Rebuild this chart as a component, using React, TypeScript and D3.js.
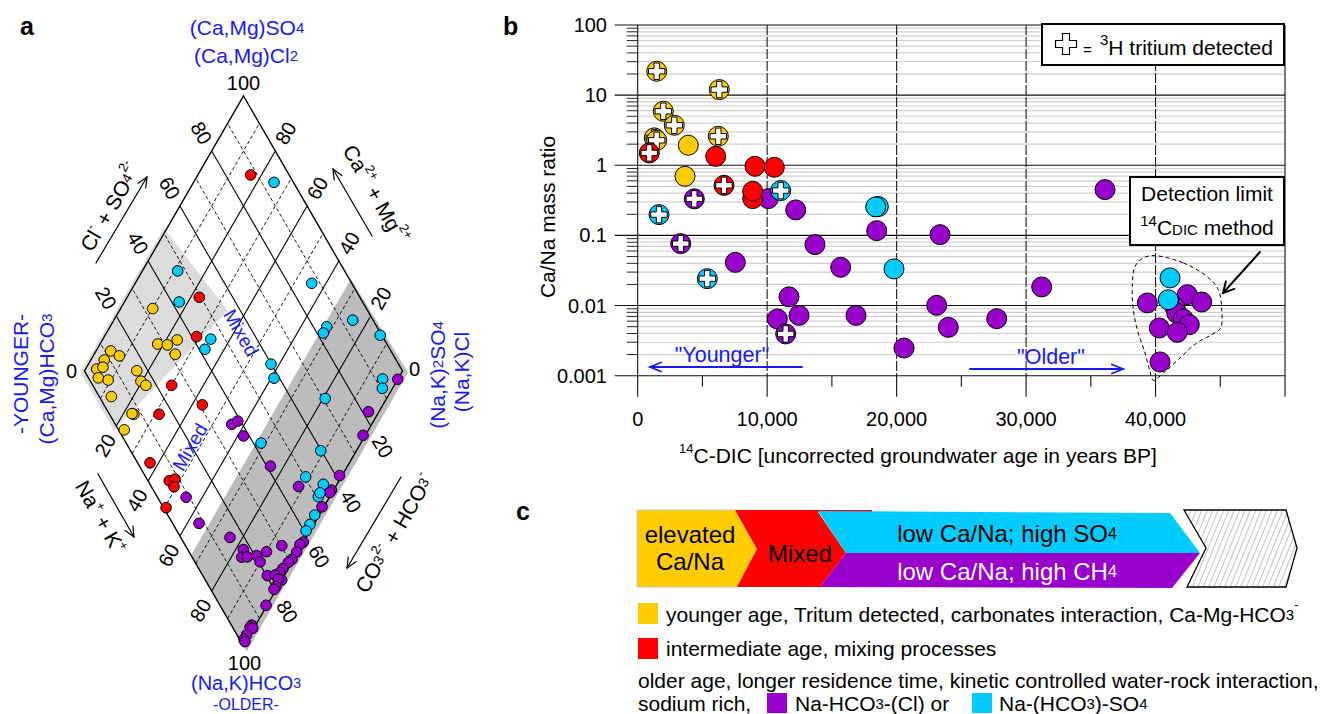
import React from "react";
import * as d3 from "d3";

const FONT = "'Liberation Sans', Arial, Helvetica, sans-serif";
const BLUE = "#1a1af0";
const YELLOW = "#FFCC00";
const RED = "#FF0000";
const CYAN = "#00CCFF";
const PURPLE = "#9900CC";

// ---------------- Panel a: Piper diamond, [Ca+Mg %, Cl+SO4 %]
const piperYellow: [number, number][] = [
  [89.9, 32.8], [81.9, 27.9], [78.7, 30.8], [76.5, 34.8], [74.5, 31.6],
  [95.4, 11.9], [91.8, 13.7], [95.8, 8.2], [96.5, 4.2], [94.4, 3.1],
  [90.9, 5.8], [86.9, 3.8], [83.6, 16.5], [80.4, 15.9], [78.1, 16.7],
  [76.6, 7.7], [76.8, 1.8], [94.9, 6.5], [77.3, 7.2],
];
const piperRed: [number, number][] = [
  [83.4, 87.9], [77.3, 49.5], [71.0, 41.5], [70.0, 24.8], [56.8, 30.9],
  [68.7, 15.6], [62.7, 3.9], [53.4, 6.7], [51.9, 8.8], [50.8, 7.1], [49.5, 0.8],
];
const piperCyan: [number, number][] = [
  [74.7, 93.9], [88.9, 47.5], [82.8, 42.3], [66.1, 45.5], [66.1, 41.8],
  [44.5, 87.4], [24.9, 93.6], [31.9, 84.2], [31.8, 82.0], [13.5, 99.5],
  [42.6, 59.9], [39.1, 58.3], [4.8, 92.3], [3.2, 90.5], [19.3, 70.7],
  [31.4, 42.4], [11.2, 59.8], [11.2, 50.3], [4.3, 54.5], [3.6, 50.7],
  [3.8, 51.9], [1.4, 46.2], [1.2, 43.0], [1.25, 40.6],
];
const piperPurple: [number, number][] = [
  [0, 97], [3.3, 81.9], [0.7, 75.9], [44.0, 36.6], [42.7, 39.1], [38.2, 38.2],
  [24.2, 41.2], [11.7, 46.3], [0.8, 61.2], [0.7, 56.0], [0.8, 55.0], [0.6, 50.0],
  [45.1, 9.0], [36.3, 8.3], [24.0, 15.5], [6.2, 30.3], [17.6, 17.5], [16.7, 15.6],
  [15.0, 17.4], [12.3, 20.6], [9.9, 24.4], [10.1, 20.5], [0.1, 37.7], [0.7, 36.2],
  [0.35, 33.8], [0.5, 31.0], [1.1, 29.3], [1.7, 26.5], [1.9, 24.8], [5.3, 20.3],
  [3.0, 22.8], [0, 24.0], [1.2, 23.1], [0.6, 21.0], [0.7, 19.9], [0.3, 14.5],
  [1.2, 6.4], [1.35, 5.5], [0.3, 6.1], [1.05, 3.0], [1.05, 1.35], [0.35, 1.25],
];
const piperGrid = [10, 20, 30, 40, 50, 60, 70, 80, 90];
const piperTicks = [20, 40, 60, 80];
const lightField: [number, number][] = [[101, -1.5], [101, 51], [66, 56], [80, -1.5]];
const darkField: [number, number][] = [[33, 0], [33, 100.5], [-2, 101.5], [-2, 0]];

// ---------------- Panel b: [14C age yr BP, Ca/Na mass ratio]
const bYellowT: [number, number][] = [
  [1468, 21.9], [6303, 12.0], [1978, 5.89], [2827, 3.72], [6226, 2.59], [1282, 2.46], [1468, 2.27],
];
const bYellow: [number, number][] = [[3909, 1.93], [3654, 0.697]];
const bRedT: [number, number][] = [[896, 1.5], [6666, 0.518]];
const bRed: [number, number][] = [
  [6025, 1.34], [9061, 0.968], [10552, 0.936], [8883, 0.335], [8883, 0.426],
];
const bCyanT: [number, number][] = [[11046, 0.436], [1645, 0.198], [5376, 0.0242]];
const bCyan: [number, number][] = [
  [18590, 0.258], [18384, 0.255], [19798, 0.0333], [41117, 0.0248], [40986, 0.0121],
];
const bPurpleT: [number, number][] = [[4372, 0.332], [3321, 0.0764], [11432, 0.00394]];
const bPurple: [number, number][] = [
  [10088, 0.335], [12204, 0.231], [13695, 0.0739], [7539, 0.0413], [15680, 0.0351],
  [18461, 0.117], [11687, 0.0133], [12459, 0.00725], [10783, 0.00644], [16862, 0.00725],
  [20570, 0.00248], [23351, 0.1026], [23096, 0.01007], [23992, 0.00489], [27731, 0.0065],
  [31207, 0.0184], [36097, 0.45], [39363, 0.0109], [42453, 0.0143], [43566, 0.01125],
  [41500, 0.0095], [41634, 0.00784], [42144, 0.00644], [42607, 0.00534], [40290, 0.00479],
  [41681, 0.00415], [40344, 0.00157],
];
const xTicks = [0, 10000, 20000, 30000, 40000, 50000];
const xTickLabels = ["0", "10,000", "20,000", "30,000", "40,000", ""];
const xMinor = [5000, 15000, 25000, 35000, 45000];
const yTicks = [0.001, 0.01, 0.1, 1, 10, 100];
const yTickLabels = ["0.001", "0.01", "0.1", "1", "10", "100"];
const detectionCurve: [number, number][] = [
  [39958, 0.0515], [42144, 0.0405], [43952, 0.0261], [44848, 0.0169], [45111, 0.00874],
  [45033, 0.00479], [44338, 0.00385], [43179, 0.00293], [41889, 0.00179], [40600, 0.00109],
  [39827, 0.000857], [39571, 0.00115], [39185, 0.00211], [38591, 0.00453], [38282, 0.00874],
  [38205, 0.0188], [38414, 0.0362], [39055, 0.0478],
];

// ---------------- geometry helpers
const DIA = { cx: 243.5, top: 96, bottom: 646, left: 84.5, right: 402.5, mid: 371 };
const frac = d3.scaleLinear().domain([0, 100]).range([0, 1]);
function dpos(c: number, a: number): [number, number] {
  const u = frac(c), v = frac(a);
  return [
    DIA.cx + u * (DIA.left - DIA.cx) + v * (DIA.right - DIA.cx),
    DIA.bottom + (u + v) * (DIA.mid - DIA.bottom),
  ];
}

const xS = d3.scaleLinear().domain([0, 50000]).range([637.7, 1285]);
const yS = d3.scaleLog().domain([0.001, 100]).range([375.7, 25]);

function Arrow({ x1, y1, x2, y2, color = "#000", width = 1.2, head = 11, angle = 24 }: any) {
  const ang = Math.atan2(y2 - y1, x2 - x1);
  const r = (angle * Math.PI) / 180;
  const p1 = [x2 + head * Math.cos(ang + Math.PI - r), y2 + head * Math.sin(ang + Math.PI - r)];
  const p2 = [x2 + head * Math.cos(ang + Math.PI + r), y2 + head * Math.sin(ang + Math.PI + r)];
  return (
    <g stroke={color} strokeWidth={width} fill="none" strokeLinecap="round">
      <line x1={x1} y1={y1} x2={x2} y2={y2} />
      <polyline points={`${p1[0]},${p1[1]} ${x2},${y2} ${p2[0]},${p2[1]}`} strokeLinejoin="miter" />
    </g>
  );
}

function crossPath(L: number, w: number) {
  return `M${-w},${-L}H${w}V${-w}H${L}V${w}H${w}V${L}H${-w}V${w}H${-L}V${-w}H${-w}Z`;
}

function PiperPanel() {
  const poly = (pts: [number, number][]) => pts.map((p) => dpos(p[0], p[1]).join(",")).join(" ");
  const T = dpos(100, 100), B = dpos(0, 0), L = dpos(100, 0), R = dpos(0, 100);
  const dots = (data: [number, number][], color: string) =>
    data.map((d, i) => {
      const [x, y] = dpos(d[0], d[1]);
      return <circle key={color + i} cx={x} cy={y} r={5.3} fill={color} stroke="#000" strokeWidth={1} />;
    });
  return (
    <g>
      <polygon points={poly(lightField)} fill="#dcdcdc" />
      <polygon points={poly(darkField)} fill="#bcbcbc" />
      {piperGrid.map((k) => {
        const solid = k % 20 === 0;
        const a1 = dpos(k, 0), a2 = dpos(k, 100);
        const b1 = dpos(0, k), b2 = dpos(100, k);
        const st = solid
          ? { stroke: "#000", strokeWidth: 1.1 }
          : { stroke: "#000", strokeWidth: 0.9, strokeDasharray: "3.5,2.5" };
        return (
          <g key={k}>
            <line x1={a1[0]} y1={a1[1]} x2={a2[0]} y2={a2[1]} {...st} />
            <line x1={b1[0]} y1={b1[1]} x2={b2[0]} y2={b2[1]} {...st} />
          </g>
        );
      })}
      <polygon points={[T, R, B, L].map((p) => p.join(",")).join(" ")} fill="none" stroke="#000" strokeWidth={1.4} />
      {dots(piperYellow, YELLOW)}
      {dots(piperRed, RED)}
      {dots(piperPurple, PURPLE)}
      {dots(piperCyan, CYAN)}
      {/* tick labels */}
      <g fontSize={20} fill="#000" textAnchor="middle">
        {piperTicks.map((k) => {
          const ul = dpos(106.5, k), ur = dpos(k, 106.5), ll = dpos(100 - k, -7), lr = dpos(-7.5, 100 - k);
          return (
            <g key={k}>
              <text transform={`translate(${ul[0]},${ul[1]}) rotate(60)`} dominantBaseline="central">{k}</text>
              <text transform={`translate(${ur[0]},${ur[1]}) rotate(-60)`} dominantBaseline="central">{k}</text>
              <text transform={`translate(${ll[0]},${ll[1]}) rotate(-60)`} dominantBaseline="central">{k}</text>
              <text transform={`translate(${lr[0]},${lr[1]}) rotate(60)`} dominantBaseline="central">{k}</text>
            </g>
          );
        })}
        <text x={T[0]} y={T[1] - 13} dominantBaseline="central">100</text>
        <text x={B[0] + 1} y={B[1] + 17} dominantBaseline="central">100</text>
        <text x={L[0] - 13} y={L[1]} dominantBaseline="central">0</text>
        <text x={R[0] + 12} y={R[1] - 2} dominantBaseline="central">0</text>
      </g>
      {/* axis titles */}
      <g fontSize={21} fill="#000" textAnchor="middle">
        <text transform="translate(110,207) rotate(-60)" dominantBaseline="central">
          Cl<tspan fontSize={13} dy={-8}>-</tspan><tspan dy={8}> + SO</tspan><tspan fontSize={14}>4</tspan>
          <tspan fontSize={13} dy={-9}>2-</tspan>
        </text>
        <text transform="translate(376,194) rotate(60)" dominantBaseline="central">
          Ca<tspan fontSize={13} dy={-8}>2+</tspan><tspan dy={8}> + Mg</tspan><tspan fontSize={13} dy={-8}>2+</tspan>
        </text>
        <text transform="translate(101,517) rotate(60)" dominantBaseline="central">
          Na<tspan fontSize={13} dy={-6}>+</tspan><tspan dy={6}> + K</tspan><tspan fontSize={13} dy={-6}>+</tspan>
        </text>
        <text transform="translate(394,533) rotate(-60)" dominantBaseline="central">
          CO<tspan fontSize={14}>3</tspan><tspan fontSize={13} dy={-8}>2-</tspan><tspan dy={8}> + HCO</tspan>
          <tspan fontSize={14}>3</tspan><tspan fontSize={13} dy={-8}>-</tspan>
        </text>
      </g>
      <Arrow x1={96} y1={263} x2={147} y2={177} />
      <Arrow x1={372} y1={236} x2={333} y2={169} />
      <Arrow x1={98} y1={474} x2={134} y2={537} />
      <Arrow x1={401} y1={477} x2={347} y2={568} />
      {/* blue labels */}
      <g fontSize={21} fill={BLUE} textAnchor="middle">
        <text x={247} y={27} dominantBaseline="central">(Ca,Mg)SO<tspan fontSize={15}>4</tspan></text>
        <text x={246} y={55} dominantBaseline="central">(Ca,Mg)Cl<tspan fontSize={15}>2</tspan></text>
        <text transform="translate(20,374) rotate(-90)" dominantBaseline="central">-YOUNGER-</text>
        <text transform="translate(46,379) rotate(-90)" dominantBaseline="central">(Ca,Mg)HCO<tspan fontSize={15}>3</tspan></text>
        <text transform="translate(437,375) rotate(-90)" dominantBaseline="central">(Na,K)<tspan fontSize={15}>2</tspan>SO<tspan fontSize={15}>4</tspan></text>
        <text transform="translate(461,372) rotate(-90)" dominantBaseline="central">(Na,K)Cl</text>
        <text x={246} y={683} dominantBaseline="central" fontSize={20}>(Na,K)HCO<tspan fontSize={14}>3</tspan></text>
        <text x={246} y={704} dominantBaseline="central" fontSize={16}>-OLDER-</text>
        <text transform="translate(241,333) rotate(60)" dominantBaseline="central" fontSize={19}>Mixed</text>
        <text transform="translate(190,447) rotate(-60)" dominantBaseline="central" fontSize={19}>Mixed</text>
      </g>
      <text x={20} y={35} fontSize={25} fontWeight="bold">a</text>
    </g>
  );
}

function AgePanel() {
  const minor = yS.ticks().filter((t) => !yTicks.some((m) => Math.abs(Math.log10(t) - Math.log10(m)) < 1e-6));
  const curve = d3.line<[number, number]>().x((d) => xS(d[0])).y((d) => yS(d[1])).curve(d3.curveCatmullRomClosed.alpha(0.5));
  const dot = (data: [number, number][], color: string, tritium: boolean, key: string) =>
    data.map((d, i) => {
      const cx = xS(d[0]), cy = yS(d[1]);
      return (
        <g key={key + i} transform={`translate(${cx},${cy})`}>
          <circle r={10} fill={color} stroke="#000" strokeWidth={1} />
          {tritium && <path d={crossPath(8.2, 2.7)} fill="#fff" stroke="#000" strokeWidth={1} />}
        </g>
      );
    });
  const x0 = xS(0), x1 = xS(50000), yb = yS(0.001), yt = yS(100);
  return (
    <g>
      {minor.map((t, i) => (
        <g key={"mn" + i}>
          <line x1={x0} x2={x1} y1={yS(t)} y2={yS(t)} stroke="#cfcfcf" strokeWidth={1.2} />
          <line x1={x0 - 11} x2={x0} y1={yS(t)} y2={yS(t)} stroke="#111" strokeWidth={0.9} />
        </g>
      ))}
      {xTicks.slice(1, 5).map((t) => (
        <line key={"vg" + t} x1={xS(t)} x2={xS(t)} y1={yt} y2={yb} stroke="#1a1a1a" strokeWidth={1.1} strokeDasharray="10,2" />
      ))}
      {yTicks.map((t) => (
        <line key={"mj" + t} x1={x0 - 23} x2={x1} y1={yS(t)} y2={yS(t)} stroke="#111" strokeWidth={1.1} />
      ))}
      {xTicks.map((t) => (
        <line key={"xt" + t} x1={xS(t)} x2={xS(t)} y1={t === 0 || t === 50000 ? yt : yb} y2={yb + 21} stroke="#111" strokeWidth={1.1} />
      ))}
      {xMinor.map((t) => (
        <line key={"xm" + t} x1={xS(t)} x2={xS(t)} y1={yb} y2={yb + 11} stroke="#111" strokeWidth={1.1} />
      ))}
      <g fontSize={20} fill="#000">
        {yTicks.map((t, i) => (
          <text key={"yl" + i} x={607} y={yS(t)} textAnchor="end" dominantBaseline="central">{yTickLabels[i]}</text>
        ))}
        {xTicks.map((t, i) => (
          <text key={"xl" + i} x={xS(t)} y={419} textAnchor="middle" dominantBaseline="central">{xTickLabels[i]}</text>
        ))}
        <text transform="translate(547,217) rotate(-90)" textAnchor="middle" dominantBaseline="central" fontSize={21}>Ca/Na mass ratio</text>
        <text x={918} y={455} textAnchor="middle" dominantBaseline="central" fontSize={21}>
          <tspan fontSize={13} dy={-7}>14</tspan><tspan dy={7}>C-DIC [uncorrected groundwater age in years BP]</tspan>
        </text>
      </g>
      <path d={curve(detectionCurve) || ""} fill="none" stroke="#000" strokeWidth={1} strokeDasharray="4,3" />
      {dot(bPurple, PURPLE, false, "p")}
      {dot(bPurpleT, PURPLE, true, "pt")}
      {dot(bYellowT, YELLOW, true, "yt")}
      {dot(bYellow, YELLOW, false, "y")}
      {dot(bRed, RED, false, "r")}
      {dot(bRedT, RED, true, "rt")}
      {dot(bCyan, CYAN, false, "c")}
      {dot(bCyanT, CYAN, true, "ct")}
      {/* younger / older */}
      <Arrow x1={802} y1={367} x2={650} y2={367} color={BLUE} width={1.8} head={12} angle={22} />
      <Arrow x1={970} y1={369} x2={1123} y2={369} color={BLUE} width={1.8} head={12} angle={22} />
      <text x={722} y={355} fontSize={21.5} fill={BLUE} textAnchor="middle" dominantBaseline="central">"Younger"</text>
      <text x={1051} y={357} fontSize={21.5} fill={BLUE} textAnchor="middle" dominantBaseline="central">"Older"</text>
      {/* legend box */}
      <rect x={1042} y={24} width={242} height={41} fill="#fff" stroke="#000" strokeWidth={2} />
      <path d={crossPath(10.5, 3.5)} transform="translate(1066,44)" fill="#fff" stroke="#000" strokeWidth={1.2} />
      <text x={1083} y={55} fontSize={15}>=</text>
      <text x={1100} y={55} fontSize={21}>
        <tspan fontSize={15} dy={-10}>3</tspan><tspan dy={10}>H tritium detected</tspan>
      </text>
      {/* detection limit box */}
      <rect x={1130} y={177} width={154} height={68} fill="#fff" stroke="#000" strokeWidth={2} />
      <text x={1207} y={201} fontSize={21} textAnchor="middle">Detection limit</text>
      <text x={1207} y={235} fontSize={21} textAnchor="middle">
        <tspan fontSize={15} dy={-9}>14</tspan><tspan dy={9}>C</tspan><tspan fontSize={15}>DIC</tspan> method
      </text>
      <Arrow x1={1260} y1={252} x2={1223} y2={293} width={2} head={12} angle={28} />
      <text x={503} y={35} fontSize={25} fontWeight="bold">b</text>
    </g>
  );
}

function SummaryPanel() {
  return (
    <g>
      <defs>
        <pattern id="hatch" width={5} height={5} patternUnits="userSpaceOnUse" patternTransform="rotate(22)">
          <line x1={0} y1={0} x2={0} y2={5} stroke="#666" strokeWidth={0.8} />
        </pattern>
      </defs>
      <polygon points="637,510 735,510 757,549 737,587 637,587" fill={YELLOW} stroke="#c8c8d0" strokeWidth={1} />
      <polygon points="735,510 872,510 872,512 818,512 846,553 820,587 737,587 757,549" fill={RED} />
      <polygon points="818,511 1170,513 1200,553 846,553" fill={CYAN} />
      <polygon points="846,553 1200,553 1172,588 820,587" fill={PURPLE} />
      <polygon points="1184,510 1286,510 1297,548 1286,587 1187,587 1206,548" fill="url(#hatch)" stroke="#000" strokeWidth={1.3} />
      <g fontSize={24} textAnchor="middle" dominantBaseline="central">
        <text x={690} y={534}>elevated</text>
        <text x={690} y={561}>Ca/Na</text>
        <text x={800} y={553}>Mixed</text>
        <text x={1007} y={533}>low Ca/Na; high SO<tspan fontSize={16}>4</tspan></text>
        <text x={1007} y={571} fill="#fff">low Ca/Na; high CH<tspan fontSize={16}>4</tspan></text>
      </g>
      <rect x={638} y={603} width={20} height={21} fill={YELLOW} />
      <rect x={638} y={638} width={20} height={21} fill={RED} />
      <rect x={767} y={693} width={20} height={20} fill={PURPLE} />
      <rect x={972} y={693} width={20} height={20} fill={CYAN} />
      <g fontSize={21} dominantBaseline="central">
        <text x={666} y={614}>younger age, Tritum detected, carbonates interaction, Ca-Mg-HCO<tspan fontSize={15}>3</tspan><tspan fontSize={12} dy={-9}>-</tspan></text>
        <text x={666} y={648}>intermediate age, mixing processes</text>
        <text x={638} y={680}>older age, longer residence time, kinetic controlled water-rock interaction,</text>
        <text x={638} y={703}>sodium rich,</text>
        <text x={795} y={703}>Na-HCO<tspan fontSize={15}>3</tspan>-(Cl) or</text>
        <text x={999} y={703}>Na-(HCO<tspan fontSize={15}>3</tspan>)-SO<tspan fontSize={15}>4</tspan></text>
      </g>
      <text x={516} y={520} fontSize={25} fontWeight="bold">c</text>
    </g>
  );
}

export default function App() {
  return (
    <svg width={1324} height={714} style={{ position: "absolute", left: 0, top: 0, background: "#fff" }} fontFamily={FONT}>
      <rect width={1324} height={714} fill="#fff" />
      <PiperPanel />
      <AgePanel />
      <SummaryPanel />
    </svg>
  );
}
